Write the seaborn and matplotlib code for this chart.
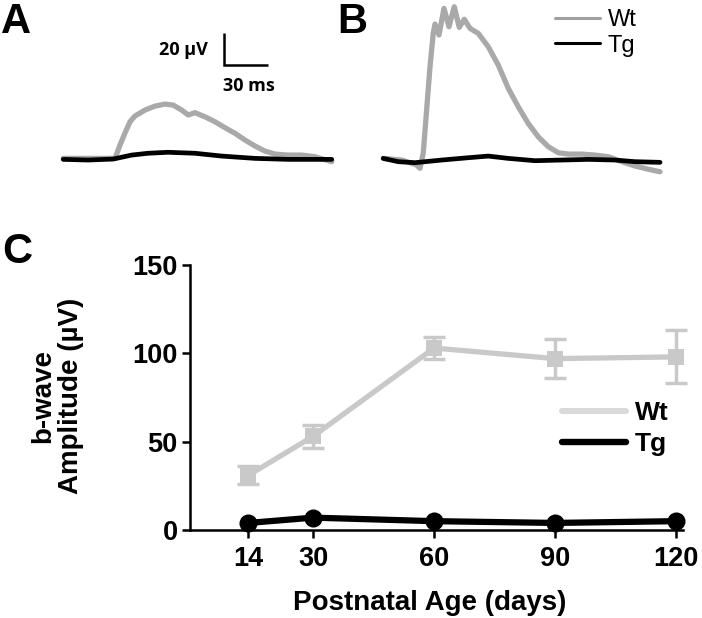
import matplotlib
matplotlib.use("Agg")
import matplotlib.pyplot as plt
import seaborn as sns
from matplotlib.lines import Line2D

# ---------------- data ----------------
# Panel A: ERG traces (time in ms, amplitude in µV)
wt_a_t = [0.2, 35.4, 38.8, 42.2, 45.6, 49.0, 55.8, 62.6, 69.4, 75.0, 80.7, 85.2, 89.8,
          96.6, 103.4, 110.2, 117.0, 123.8, 130.6, 137.4, 144.2, 153.1, 162.4, 171.4, 182.8]
wt_a_v = [0.4, 0.4, 8.5, 15.8, 22.6, 26.1, 29.7, 32.1, 33.3, 32.7, 29.7, 26.7, 28.1,
          25.6, 22.6, 19.0, 15.6, 11.5, 7.9, 4.8, 3.0, 2.4, 2.4, 1.4, -1.6]
tg_a_t = [0.2, 17.2, 34.2, 46.7, 57.8, 71.4, 89.8, 108.0, 130.6, 153.3, 182.8]
tg_a_v = [-0.2, -0.6, 0.0, 2.4, 3.5, 4.1, 3.5, 1.8, 0.4, -0.2, -0.2]

# Panel B: ERG traces
wt_b_t = [0.2, 12.7, 22.9, 25.2, 27.4, 29.7, 32.0, 34.2, 35.4, 38.1, 41.5, 44.9, 48.5,
          51.9, 55.3, 59.2, 64.8, 71.6, 78.4, 85.2, 92.0, 98.8, 105.6, 112.4, 119.3,
          126.1, 135.2, 144.2, 153.3, 162.4, 171.4, 180.5, 188.4]
wt_b_v = [1.0, 0.0, -3.0, -5.0, 4.1, 30.3, 56.5, 76.8, 82.4, 75.8, 91.9, 80.8, 92.9,
          80.4, 85.3, 79.8, 76.8, 68.7, 57.6, 43.5, 32.3, 22.2, 14.1, 8.1, 4.4,
          3.6, 3.6, 3.0, 2.0, -1.0, -3.6, -5.6, -7.1]
tg_b_t = [0.2, 10.4, 21.8, 40.0, 58.0, 71.6, 85.2, 103.4, 121.6, 139.7, 157.8, 171.4, 188.4]
tg_b_v = [1.0, -1.0, -1.6, 0.0, 1.4, 2.4, 1.0, -0.4, 0.0, 0.4, 0.0, -1.0, -1.4]

scale_ms = 30
scale_uv = 20

# Panel C: b-wave amplitude vs age
ages = [14, 30, 60, 90, 120]
wt_mean = [31, 53, 103, 97, 98]
wt_sem = [5, 6.5, 6, 11, 15]
tg_mean = [4, 7, 5, 4, 5]
yticks = [0, 50, 100, 150]

# ---------------- style ----------------
sns.set_style("ticks")
plt.rcParams['font.family'] = ['Liberation Sans', 'DejaVu Sans']
for key in ('text.color', 'axes.labelcolor', 'xtick.color', 'ytick.color', 'axes.edgecolor'):
    plt.rcParams[key] = 'black'

W, H = 702, 618
fig = plt.figure(figsize=(W / 100, H / 100), dpi=100)


def px_axes(x0, y0, x1, y1):
    return fig.add_axes([x0 / W, 1 - y1 / H, (x1 - x0) / W, (y1 - y0) / H])


trace_gray = '#a9a9a9'
wt_c = '#c9c9c9'

# ---------------- panel A ----------------
axA = px_axes(50, 0, 345, 180)
sns.lineplot(x=wt_a_t, y=wt_a_v, ax=axA, color=trace_gray, lw=3.8, sort=False, estimator=None)
sns.lineplot(x=tg_a_t, y=tg_a_v, ax=axA, color='black', lw=3.4, sort=False, estimator=None)
axA.set_xlim(-8.8, 191.8)
axA.set_ylim(-12.7, 96.4)
axA.axis('off')
# scale bar
sx, sy = 109.2, 56.7
axA.plot([sx, sx, sx + scale_ms], [sy + scale_uv, sy, sy], color='black', lw=1.8,
         solid_joinstyle='miter', solid_capstyle='butt', clip_on=False)
axA.text(sx - 10.6, sy + 9.3, f'{scale_uv} µV', ha='right', va='center',
         fontsize=13, fontweight='bold', family=['Open Sans', 'DejaVu Sans'])
axA.text(sx - 0.4, sy - 12.5, f'{scale_ms} ms', ha='left', va='center',
         fontsize=13, fontweight='bold', family=['Open Sans', 'DejaVu Sans'])

# ---------------- panel B ----------------
axB = px_axes(375, 0, 670, 180)
sns.lineplot(x=wt_b_t, y=wt_b_v, ax=axB, color=trace_gray, lw=3.8, sort=False, estimator=None)
sns.lineplot(x=tg_b_t, y=tg_b_v, ax=axB, color='black', lw=3.4, sort=False, estimator=None)
axB.set_xlim(-5.4, 195.2)
axB.set_ylim(-12.1, 97.0)
axB.axis('off')
hB = [Line2D([], [], color='#a0a0a0', lw=2.2), Line2D([], [], color='black', lw=2.2)]
axB.legend(hB, ['Wt', 'Tg'], loc='upper left', bbox_to_anchor=(555 / W, 1 - 9 / H),
           bbox_transform=fig.transFigure, frameon=False, borderpad=0, borderaxespad=0,
           handlelength=1.9, handletextpad=0.32, labelspacing=0.15, fontsize=17)

# ---------------- panel C ----------------
axC = px_axes(190, 265, 683, 530)
sns.lineplot(x=ages, y=tg_mean, ax=axC, color='black', lw=4.5, marker='o', markersize=13,
             markeredgewidth=0, clip_on=False, zorder=3)
sns.lineplot(x=ages, y=wt_mean, ax=axC, color=wt_c, lw=3.8, marker='s', markersize=11,
             markeredgewidth=0, clip_on=False, zorder=3)
axC.errorbar(ages, wt_mean, yerr=wt_sem, fmt='none', ecolor=wt_c, elinewidth=2.5,
             capsize=8, capthick=2.5, zorder=3, clip_on=False)
axC.set_xlim(-0.5, 121.7)
axC.set_ylim(0, 150)
axC.set_xticks(ages)
axC.set_yticks(yticks)
sns.despine(ax=axC)
for s in ('left', 'bottom'):
    axC.spines[s].set_linewidth(1.8)
    axC.spines[s].set_color('black')
axC.tick_params(axis='both', length=6, width=1.8, color='black', labelcolor='black', labelsize=19.5)
axC.tick_params(axis='x', pad=5.5)
axC.tick_params(axis='y', pad=3.0)
for lab in axC.get_xticklabels() + axC.get_yticklabels():
    lab.set_fontweight('bold')
axC.set_xlabel('Postnatal Age (days)', fontsize=20, fontweight='bold', color='black')
axC.set_ylabel('b-wave\nAmplitude (µV)', fontsize=20, fontweight='bold', linespacing=1.1,
               color='black')
axC.xaxis.set_label_coords(0.486, -0.225)
axC.yaxis.set_label_coords(-0.215, 0.506)
hC = [Line2D([], [], color='#d9d9d9', lw=4.3), Line2D([], [], color='black', lw=4.6)]
axC.legend(hC, ['Wt', 'Tg'], loc='upper left', bbox_to_anchor=(562 / W, 1 - 401 / H),
           bbox_transform=fig.transFigure, frameon=False, borderpad=0, borderaxespad=0,
           handlelength=2.42, handletextpad=0.34, labelspacing=0.28,
           prop={'size': 19, 'weight': 'bold'})

# ---------------- panel letters ----------------
for lx, ly, letter in [(1, 33, 'A'), (337, 33, 'B'), (2, 263, 'C')]:
    fig.text(lx / W, 1 - ly / H, letter, fontsize=30, fontweight='bold', ha='left',
             va='baseline', color='black')

fig.savefig('out.png', dpi=100)
